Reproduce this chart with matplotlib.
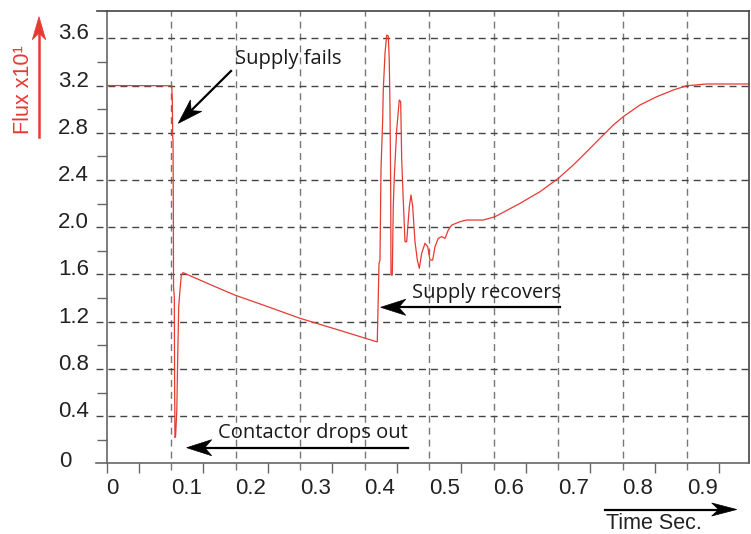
import matplotlib.pyplot as plt
import numpy as np
from matplotlib.lines import Line2D
from matplotlib.patches import Polygon

plt.rcParams['lines.scale_dashes'] = False

# flux trace (time in s, flux x10)
time = [0.0, 0.1008, 0.1017, 0.1023, 0.1028, 0.1033, 0.1036, 0.1048, 0.1052, 0.1058,
        0.1068, 0.1087, 0.1098, 0.1116, 0.1136, 0.1157, 0.1183, 0.1206,
        0.1602, 0.1989, 0.2457, 0.2997, 0.3617, 0.4186,
        0.4195, 0.4222, 0.4237, 0.4253, 0.4279, 0.4288, 0.4315, 0.4341, 0.4366, 0.4381,
        0.4392, 0.4403, 0.4408, 0.4428, 0.4443, 0.4459, 0.4496, 0.4536, 0.4558, 0.4574,
        0.4598, 0.4625, 0.4651, 0.4692, 0.4718, 0.4744, 0.4780, 0.4816, 0.4847, 0.4884,
        0.4935, 0.4977, 0.5012, 0.5054, 0.5090, 0.5141, 0.5194, 0.5245, 0.5296, 0.5349,
        0.5478, 0.5581, 0.5839, 0.6020, 0.6408, 0.6718, 0.7002, 0.7234, 0.7442, 0.7648,
        0.7854, 0.8009, 0.8268, 0.8527, 0.8785, 0.8992, 0.9302, 0.9963]
flux = [3.2, 3.198, 3.077, 2.766, 2.738, 2.163, 1.494, 1.409, 0.75, 0.22,
        0.23, 0.452, 0.816, 1.324, 1.468, 1.595, 1.615, 1.610,
        1.515, 1.425, 1.335, 1.229, 1.126, 1.030,
        1.031, 1.694, 1.722, 2.499, 2.908, 3.162, 3.472, 3.627, 3.619, 3.416,
        3.020, 2.343, 1.595, 1.595, 2.174, 2.428, 2.823, 3.077, 3.063, 2.569,
        2.230, 1.877, 1.877, 2.174, 2.273, 2.174, 1.877, 1.722, 1.652, 1.779,
        1.864, 1.835, 1.722, 1.722, 1.835, 1.906, 1.920, 1.906, 1.976, 2.018,
        2.047, 2.061, 2.061, 2.089, 2.202, 2.301, 2.414, 2.527, 2.639, 2.753,
        2.865, 2.936, 3.035, 3.105, 3.162, 3.198, 3.213, 3.213]

x_grid = [0.1, 0.2, 0.3, 0.4, 0.5, 0.6, 0.7, 0.8, 0.9]
x_labels = ['0', '0.1', '0.2', '0.3', '0.4', '0.5', '0.6', '0.7', '0.8', '0.9']
y_grid = [0.4, 0.8, 1.2, 1.6, 2.0, 2.4, 2.8, 3.2, 3.6]
y_labels = ['0', '0.4', '0.8', '1.2', '1.6', '2.0', '2.4', '2.8', '3.2', '3.6']

W, H = 751, 534
RED = '#e63a32'
NOTE_FONT = 'Open Sans'
TICK_FONT = 'Liberation Sans'

fig = plt.figure(figsize=(W / 100, H / 100), dpi=100)
ax = fig.add_axes([0.1421, 0.1322, 0.8556, 0.8472])
x_max, y_max = 0.9963, 3.831
ax.set_xlim(0, x_max)
ax.set_ylim(0, y_max)
px_x = 645.0   # pixels per unit of time
px_y = 118.1   # pixels per unit of flux

for side in ['left', 'bottom']:
    ax.spines[side].set_color('#666666')
    ax.spines[side].set_linewidth(1.2)
for side in ['top', 'right']:
    ax.spines[side].set_color('#444444')
    ax.spines[side].set_linewidth(1.2)

# solid ticks sit half way between grid lines
ax.set_xticks([0] + [g - 0.05 for g in x_grid] + [0.95])
ax.set_yticks([g - 0.2 for g in y_grid])
ax.tick_params(direction='out', length=7.2, width=1, color='#666666',
               labelbottom=False, labelleft=False)

# dashed grid running a little past the axes, like the major ticks
dash = (0, (5, 3.6))
for g in x_grid:
    ax.plot([g, g], [-7 / px_y, y_max], ls=dash, lw=1, color='#777777', clip_on=False)
for g in y_grid:
    ax.plot([-10.5 / px_x, x_max], [g, g], ls=dash, lw=1, color='#444444', clip_on=False)
ax.plot([-10.5 / px_x, 0], [0, 0], lw=1.2, color='#666666', clip_on=False)
ax.plot([-9.5 / px_x, 0], [y_max, y_max], lw=1.2, color='#444444', clip_on=False)

for pos, lab in zip([0] + x_grid, x_labels):
    off = 6 if lab == '0' else 15
    ax.text(pos + off / px_x, -31 / px_y, lab, ha='center', va='baseline',
            fontsize=16, family=TICK_FONT, color='#222222')
for pos, lab in zip([0] + y_grid, y_labels):
    if lab == '0':
        ax.text(-41.5 / px_x, -4 / px_y, lab, ha='center', va='baseline',
                fontsize=16, family=TICK_FONT, color='#222222')
    else:
        ax.text(-17.5 / px_x, pos - 1 / px_y, lab, ha='right', va='baseline',
                fontsize=16, family=TICK_FONT, color='#222222')

ax.plot(time, flux, color=RED, lw=0.9)


def fig_pt(x, y):
    # picture pixels (origin top left) to figure fraction
    return x / W, 1 - y / H


def arrow(x0, y0, x1, y1, color='black', head=25, half=8, lw=1.6):
    p0, p1 = np.array([x0, y0], float), np.array([x1, y1], float)
    d = (p1 - p0) / np.hypot(*(p1 - p0))
    n = np.array([-d[1], d[0]])
    base = p1 - d * head
    notch = p1 - d * head * 0.72
    a, b = fig_pt(*p0), fig_pt(*notch)
    fig.add_artist(Line2D([a[0], b[0]], [a[1], b[1]], lw=lw, color=color,
                          transform=fig.transFigure))
    pts = [fig_pt(*p) for p in [p1, base + n * half, notch, base - n * half]]
    fig.add_artist(Polygon(pts, closed=True, transform=fig.transFigure,
                           facecolor=color, edgecolor=color, lw=0.5))


def note(x, y, s):
    fig.text(*fig_pt(x, y), s, ha='left', va='baseline', fontsize=14.5,
             family=NOTE_FONT, color='#1a1a1a')


note(235, 64, 'Supply fails')
arrow(231, 71, 178.3, 123.3)
note(217.7, 438, 'Contactor drops out')
arrow(408, 447.7, 186.7, 447.7)
note(411.7, 298, 'Supply recovers')
arrow(560, 307.3, 380.7, 307.3)

fig.text(*fig_pt(606, 529), 'Time Sec.', ha='left', va='baseline', fontsize=15.5,
         family=TICK_FONT, color='#222222')
arrow(605, 509.5, 736.7, 509.5, head=25, half=6.5)

fig.text(*fig_pt(24, 90), 'Flux x10\u00b9', rotation=90, ha='center', va='center',
         fontsize=15.5, family=TICK_FONT, color=RED)
arrow(39, 136.7, 39, 16.7, color=RED, head=23, half=6.7, lw=1.8)

fig.savefig('out.png', dpi=100)
